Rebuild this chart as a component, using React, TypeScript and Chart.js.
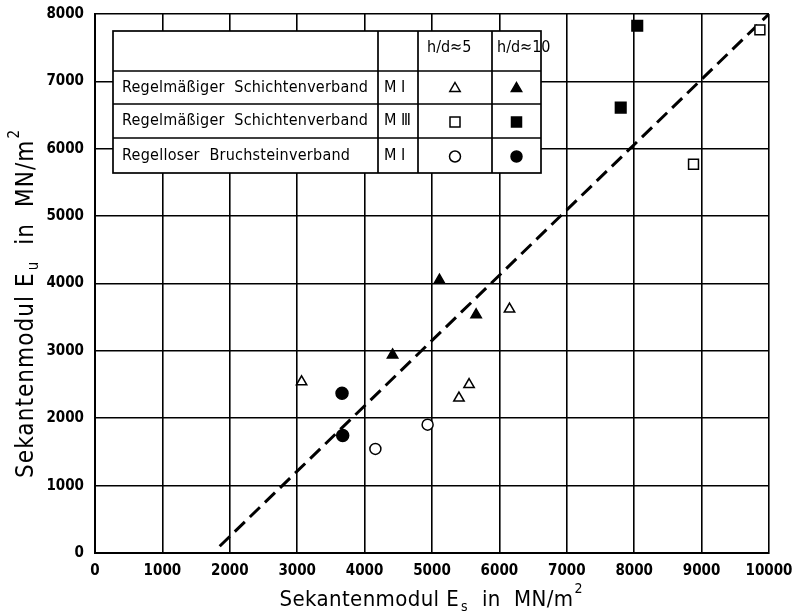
import React, { useEffect, useRef } from 'react';
import { Chart, registerables } from 'chart.js';

Chart.register(...registerables);

// ---- data ----
const triOpenX = [3065, 5400, 5550, 6150];
const triOpenY = [2540, 2300, 2500, 3620];
const triFillX = [4415, 5110, 5655];
const triFillY = [2940, 4050, 3535];
const sqOpenX = [8880, 9865];
const sqOpenY = [5770, 7765];
const sqFillX = [7800, 8045];
const sqFillY = [6610, 7825];
const circOpenX = [4160, 4935];
const circOpenY = [1545, 1905];
const circFillX = [3665, 3675];
const circFillY = [2370, 1745];
const lineX = [1850, 10000];
const lineY = [100, 8000];

const xTickValues = [0, 1000, 2000, 3000, 4000, 5000, 6000, 7000, 8000, 9000, 10000];
const yTickValues = [0, 1000, 2000, 3000, 4000, 5000, 6000, 7000, 8000];

const legendHeaders = ['h/d≈5', 'h/d≈10'];
const legendRowLabels = [
  'Regelmäßiger  Schichtenverband',
  'Regelmäßiger  Schichtenverband',
  'Regelloser  Bruchsteinverband',
];
const legendRowMortar = ['M Ⅰ', 'M Ⅲ', 'M Ⅰ'];
const legendRowShapes = ['triangle', 'rect', 'circle'];

const xTitleMain = 'Sekantenmodul E';
const xTitleSub = 's';
const xTitleRest = '  in  MN/m';
const yTitleMain = 'Sekantenmodul E';
const yTitleSub = 'u';
const yTitleRest = '  in  MN/m';
const titleSup = '2';

const FONT = '"DejaVu Sans Condensed", "DejaVu Sans", sans-serif';

const pts = (xs: number[], ys: number[]) => xs.map((x, i) => ({ x, y: ys[i] }));

function drawMarker(ctx: CanvasRenderingContext2D, shape: string, x: number, y: number, filled: boolean) {
  ctx.save();
  ctx.beginPath();
  if (shape === 'triangle') {
    const r = 6;
    ctx.moveTo(x, y - r);
    ctx.lineTo(x + r * 0.866, y + r * 0.5);
    ctx.lineTo(x - r * 0.866, y + r * 0.5);
    ctx.closePath();
  } else if (shape === 'rect') {
    const s = 5;
    ctx.rect(x - s, y - s, 2 * s, 2 * s);
  } else {
    ctx.arc(x, y, 5.5, 0, Math.PI * 2);
  }
  ctx.fillStyle = filled ? '#000' : '#fff';
  ctx.fill();
  ctx.lineWidth = 1.5;
  ctx.strokeStyle = '#000';
  ctx.stroke();
  ctx.restore();
}

// draw text stretched (via letter spacing) to a target width
function fitText(ctx: CanvasRenderingContext2D, text: string, x: number, y: number, target: number) {
  (ctx as any).letterSpacing = '0px';
  const w = ctx.measureText(text).width;
  const ls = Math.max(0, (target - w) / Math.max(1, text.length - 1));
  (ctx as any).letterSpacing = `${ls}px`;
  ctx.fillText(text, x, y);
  (ctx as any).letterSpacing = '0px';
}

function drawTitle(
  ctx: CanvasRenderingContext2D,
  main: string, sub: string, rest: string, sup: string,
  cx: number, cy: number, size: number, target: number,
) {
  const big = `${size}px ${FONT}`;
  const small = `${Math.round(size * 0.62)}px ${FONT}`;
  ctx.font = big;
  const w1 = ctx.measureText(main).width;
  const w3 = ctx.measureText(rest).width;
  ctx.font = small;
  const w2 = ctx.measureText(sub).width + 3;
  const w4 = ctx.measureText(sup).width + 1;
  const natural = w1 + w2 + w3 + w4;
  const ls = Math.max(0, (target - natural) / (main.length + rest.length));
  const w1s = w1 + ls * main.length;
  const w3s = w3 + ls * rest.length;
  const total = w1s + w2 + w3s + w4;
  let x = cx - total / 2;
  ctx.textBaseline = 'alphabetic';
  ctx.textAlign = 'left';
  ctx.fillStyle = '#000';
  ctx.font = big;
  (ctx as any).letterSpacing = `${ls}px`;
  ctx.fillText(main, x, cy);
  (ctx as any).letterSpacing = '0px';
  x += w1s;
  ctx.font = small;
  ctx.fillText(sub, x + 2, cy + 5);
  x += w2;
  ctx.font = big;
  (ctx as any).letterSpacing = `${ls}px`;
  ctx.fillText(rest, x, cy);
  (ctx as any).letterSpacing = '0px';
  x += w3s;
  ctx.font = small;
  ctx.fillText(sup, x + 1, cy - size * 0.58);
}

const overlayPlugin = {
  id: 'overlay',
  afterDraw(chart: any) {
    const ctx: CanvasRenderingContext2D = chart.ctx;
    // --- axis titles ---
    ctx.save();
    drawTitle(ctx, xTitleMain, xTitleSub, xTitleRest, titleSup, 431, 606, 22, 303);
    ctx.translate(33, 304);
    ctx.rotate(-Math.PI / 2);
    drawTitle(ctx, yTitleMain, yTitleSub, yTitleRest, titleSup, 0, 0, 24, 348);
    ctx.restore();

    // --- legend table ---
    const colX = [113, 378, 418, 492, 541];
    const rowY = [31, 71, 104, 138, 173];
    ctx.save();
    ctx.fillStyle = '#fff';
    ctx.fillRect(colX[0], rowY[0], colX[4] - colX[0], rowY[4] - rowY[0]);
    ctx.strokeStyle = '#000';
    ctx.lineWidth = 1.7;
    ctx.strokeRect(colX[0], rowY[0], colX[4] - colX[0], rowY[4] - rowY[0]);
    ctx.beginPath();
    for (let i = 1; i < 4; i++) {
      ctx.moveTo(colX[i], rowY[0]);
      ctx.lineTo(colX[i], rowY[4]);
    }
    for (let j = 1; j < 4; j++) {
      ctx.moveTo(colX[0], rowY[j]);
      ctx.lineTo(colX[4], rowY[j]);
    }
    ctx.stroke();
    ctx.fillStyle = '#000';
    ctx.textBaseline = 'middle';
    ctx.font = `16px ${FONT}`;
    ctx.textAlign = 'left';
    fitText(ctx, legendHeaders[0], 427, 48, 41);
    fitText(ctx, legendHeaders[1], 497, 48, 41);
    for (let r = 0; r < 3; r++) {
      const cy = (rowY[r + 1] + rowY[r + 2]) / 2;
      ctx.textAlign = 'left';
      ctx.font = `16px ${FONT}`;
      fitText(ctx, legendRowLabels[r], 122, cy, r === 2 ? 228 : 246);
      ctx.font = `16px ${FONT}`;
      ctx.fillText(legendRowMortar[r], colX[1] + 6, cy);
      drawMarker(ctx, legendRowShapes[r], (colX[2] + colX[3]) / 2, cy + 1, false);
      drawMarker(ctx, legendRowShapes[r], (colX[3] + colX[4]) / 2, cy + 1, true);
    }
    ctx.restore();
  },
};

export default function App() {
  const ref = useRef<HTMLCanvasElement | null>(null);
  useEffect(() => {
    if (!ref.current) return;
    const openStyle = { backgroundColor: '#fff', borderColor: '#000', borderWidth: 1.5, showLine: false };
    const fillStyle = { backgroundColor: '#000', borderColor: '#000', borderWidth: 1.5, showLine: false };
    const chart = new Chart(ref.current, {
      type: 'scatter',
      data: {
        datasets: [
          { label: 'tri5', data: pts(triOpenX, triOpenY), pointStyle: 'triangle', pointRadius: 6, ...openStyle },
          { label: 'tri10', data: pts(triFillX, triFillY), pointStyle: 'triangle', pointRadius: 6, ...fillStyle },
          { label: 'sq5', data: pts(sqOpenX, sqOpenY), pointStyle: 'rect', pointRadius: 7, ...openStyle },
          { label: 'sq10', data: pts(sqFillX, sqFillY), pointStyle: 'rect', pointRadius: 7.5, ...fillStyle },
          { label: 'c5', data: pts(circOpenX, circOpenY), pointStyle: 'circle', pointRadius: 5.5, ...openStyle },
          { label: 'c10', data: pts(circFillX, circFillY), pointStyle: 'circle', pointRadius: 6, ...fillStyle },
          {
            label: 'fit',
            type: 'line',
            data: pts(lineX, lineY),
            showLine: true,
            borderColor: '#000',
            borderWidth: 3,
            borderDash: [14, 7],
            pointRadius: 0,
            fill: false,
          } as any,
        ],
      },
      options: {
        responsive: false,
        animation: false,
        devicePixelRatio: 1,
        layout: { padding: { top: 14, right: 25, left: 0, bottom: 0 } },
        plugins: { legend: { display: false }, tooltip: { enabled: false }, title: { display: false } },
        scales: {
          x: {
            type: 'linear',
            min: 0,
            max: 10000,
            afterBuildTicks: (s: any) => { s.ticks = xTickValues.map((v) => ({ value: v })); },
            afterFit: (s: any) => { s.height = 59; s.paddingRight = 0; s.paddingLeft = 0; },
            ticks: {
              color: '#000',
              font: { family: FONT, size: 15, weight: 'bold' },
              padding: 9,
              maxRotation: 0,
              autoSkip: false,
              callback: (v: any) => String(v),
            },
            grid: { color: '#000', lineWidth: 1.6, drawTicks: false },
            border: { color: '#000', width: 2 },
          },
          y: {
            type: 'linear',
            min: 0,
            max: 8000,
            afterBuildTicks: (s: any) => { s.ticks = yTickValues.map((v) => ({ value: v })); },
            afterFit: (s: any) => { s.width = 95; s.paddingTop = 0; s.paddingBottom = 0; },
            ticks: {
              color: '#000',
              font: { family: FONT, size: 15, weight: 'bold' },
              padding: 11,
              autoSkip: false,
              callback: (v: any) => String(v),
            },
            grid: { color: '#000', lineWidth: 1.6, drawTicks: false },
            border: { color: '#000', width: 2 },
          },
        },
      },
      plugins: [overlayPlugin],
    });
    return () => chart.destroy();
  }, []);
  return (
    <div style={{ position: 'fixed', left: 0, top: 0, width: 794, height: 612, background: '#fff' }}>
      <canvas ref={ref} width={794} height={612} style={{ display: 'block' }} />
    </div>
  );
}
